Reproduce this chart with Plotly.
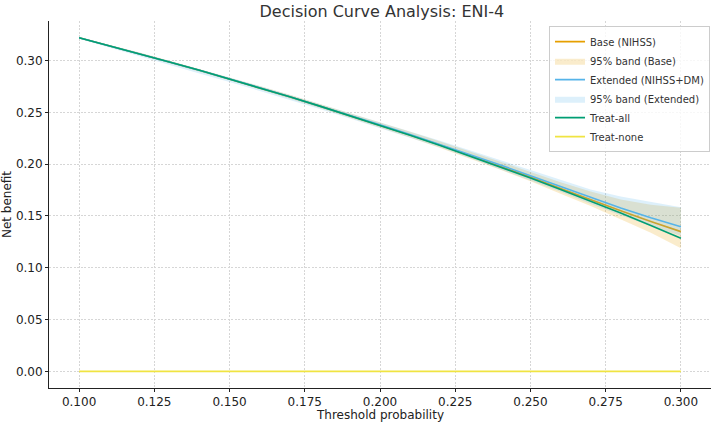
import plotly.graph_objects as go

threshold = [0.10, 0.11, 0.12, 0.13, 0.14, 0.15, 0.16, 0.17, 0.18, 0.19, 0.20,
             0.21, 0.22, 0.23, 0.24, 0.25, 0.26, 0.27, 0.28, 0.29, 0.30]

base_nb = [0.3222, 0.3146, 0.3068, 0.2988, 0.2907, 0.2824, 0.2738, 0.2651, 0.2561, 0.2469, 0.2378,
           0.2283, 0.2185, 0.2084, 0.1981, 0.1876, 0.1765, 0.1656, 0.1550, 0.1448, 0.1349]
base_lo = [0.3217, 0.3138, 0.3058, 0.2976, 0.2894, 0.2810, 0.2723, 0.2635, 0.2543, 0.2449, 0.2356,
           0.2258, 0.2157, 0.2054, 0.1946, 0.1836, 0.1715, 0.1596, 0.1470, 0.1338, 0.1189]
base_hi = [0.3227, 0.3154, 0.3078, 0.3000, 0.2921, 0.2840, 0.2756, 0.2671, 0.2583, 0.2494, 0.2406,
           0.2314, 0.2220, 0.2124, 0.2026, 0.1926, 0.1825, 0.1736, 0.1660, 0.1608, 0.1579]

ext_nb = [0.3222, 0.3146, 0.3068, 0.2988, 0.2907, 0.2825, 0.2739, 0.2652, 0.2563, 0.2472, 0.2380,
          0.2287, 0.2191, 0.2092, 0.1992, 0.1889, 0.1784, 0.1677, 0.1578, 0.1483, 0.1397]
ext_lo = [0.3212, 0.3126, 0.3043, 0.2958, 0.2877, 0.2795, 0.2709, 0.2622, 0.2533, 0.2442, 0.2350,
          0.2257, 0.2161, 0.2057, 0.1952, 0.1844, 0.1734, 0.1617, 0.1508, 0.1403, 0.1310]
ext_hi = [0.3227, 0.3156, 0.3078, 0.2998, 0.2919, 0.2839, 0.2755, 0.2670, 0.2583, 0.2495, 0.2406,
          0.2317, 0.2226, 0.2132, 0.2037, 0.1939, 0.1844, 0.1757, 0.1688, 0.1633, 0.1584]

treat_all = [0.3222, 0.3146, 0.3068, 0.2988, 0.2907, 0.2824, 0.2738, 0.2651, 0.2561, 0.2469, 0.2375,
             0.2279, 0.2180, 0.2078, 0.1974, 0.1867, 0.1757, 0.1644, 0.1528, 0.1408, 0.1286]
treat_none = [0.0] * len(threshold)

x_ticks = [0.100, 0.125, 0.150, 0.175, 0.200, 0.225, 0.250, 0.275, 0.300]
y_ticks = [0.00, 0.05, 0.10, 0.15, 0.20, 0.25, 0.30]

ORANGE = "#E69F00"
BLUE = "#56B4E9"
GREEN = "#009E73"
YELLOW = "#F0E442"
FONT = "DejaVu Sans"

fig = go.Figure()

fig.add_trace(go.Scatter(x=threshold, y=base_nb, mode="lines", name="Base (NIHSS)",
                         line=dict(color=ORANGE, width=1.6), legendrank=1))
fig.add_trace(go.Scatter(x=threshold + threshold[::-1], y=base_hi + base_lo[::-1],
                         mode="lines", fill="toself", fillcolor="rgba(230,159,0,0.2)",
                         line=dict(width=0, color="rgba(0,0,0,0)"), name="95% band (Base)",
                         legendrank=2))
fig.add_trace(go.Scatter(x=threshold, y=ext_nb, mode="lines", name="Extended (NIHSS+DM)",
                         line=dict(color=BLUE, width=1.6), legendrank=3))
fig.add_trace(go.Scatter(x=threshold + threshold[::-1], y=ext_hi + ext_lo[::-1],
                         mode="lines", fill="toself", fillcolor="rgba(86,180,233,0.2)",
                         line=dict(width=0, color="rgba(0,0,0,0)"), name="95% band (Extended)",
                         legendrank=4))
fig.add_trace(go.Scatter(x=threshold, y=treat_all, mode="lines", name="Treat-all",
                         line=dict(color=GREEN, width=1.6), legendrank=5))
fig.add_trace(go.Scatter(x=threshold, y=treat_none, mode="lines", name="Treat-none",
                         line=dict(color=YELLOW, width=1.6), legendrank=6))

axis_common = dict(
    showgrid=True, gridcolor="#d6d6d6", gridwidth=0.8, griddash="2px,1.5px",
    showline=True, linecolor="#222", linewidth=1, ticks="outside", ticklen=3,
    tickcolor="#222", tickwidth=1, zeroline=False, mirror=False, automargin=False,
    tickfont=dict(family=FONT, size=12, color="#222"),
)

fig.update_layout(
    width=715, height=422,
    margin=dict(l=49, r=4, t=21, b=34, autoexpand=False),
    paper_bgcolor="white", plot_bgcolor="white",
    font=dict(family=FONT, size=12, color="#222"),
    title=dict(text="Decision Curve Analysis: ENI-4", x=0.534, xanchor="center",
               xref="container", y=0.974, yanchor="middle", yref="container",
               font=dict(family=FONT, size=16, color="#333")),
    xaxis=dict(range=[0.09, 0.31], tickvals=x_ticks, tickformat=".3f", **axis_common),
    yaxis=dict(range=[-0.0161, 0.3383], tickvals=y_ticks, tickformat=".2f",
               title=dict(text="Net benefit", standoff=4,
                          font=dict(family=FONT, size=12, color="#222")),
               **axis_common),
    legend=dict(x=0.9985, y=0.986, xanchor="right", yanchor="top",
                bgcolor="rgba(255,255,255,0.8)", bordercolor="#cccccc", borderwidth=1,
                font=dict(family=FONT, size=10, color="#333"),
                itemwidth=30, tracegroupgap=0, traceorder="normal"),
    showlegend=True,
    annotations=[dict(text="Threshold probability", xref="paper", yref="paper",
                      x=0.5, y=-0.0725, xanchor="center", yanchor="middle",
                      showarrow=False, font=dict(family=FONT, size=12, color="#222"))],
)

fig.write_html("out.html")
